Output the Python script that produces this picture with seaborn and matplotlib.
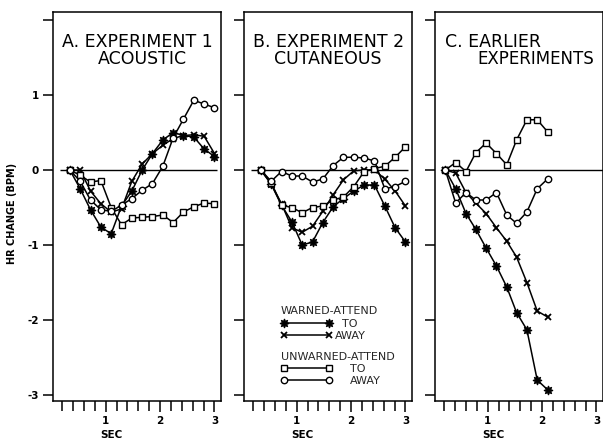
import numpy as np
import pandas as pd
import matplotlib
matplotlib.use("Agg")
import matplotlib.pyplot as plt
import seaborn as sns
from matplotlib.lines import Line2D
from matplotlib.ticker import FixedLocator

# ---------------- data ----------------
x_ab = [0.34, 0.53, 0.72, 0.91, 1.10, 1.29, 1.48, 1.67, 1.86, 2.05, 2.24, 2.43, 2.62, 2.81, 3.00]
x_c = [0.22, 0.41, 0.60, 0.78, 0.97, 1.16, 1.35, 1.53, 1.72, 1.91, 2.10]

a_warned_to = [0, -0.25, -0.53, -0.76, -0.85, -0.48, -0.28, 0.00, 0.22, 0.40, 0.50, 0.46, 0.44, 0.28, 0.18]
a_warned_away = [0, 0.00, -0.28, -0.45, -0.56, -0.52, -0.15, 0.08, 0.22, 0.33, 0.42, 0.46, 0.47, 0.45, 0.22]
a_unwarned_to = [0, -0.07, -0.16, -0.14, -0.50, -0.73, -0.64, -0.63, -0.62, -0.60, -0.70, -0.56, -0.49, -0.44, -0.45]
a_unwarned_away = [0, -0.15, -0.40, -0.53, -0.55, -0.47, -0.38, -0.27, -0.18, 0.05, 0.43, 0.68, 0.93, 0.88, 0.83]

b_warned_to = [0, -0.19, -0.47, -0.69, -1.00, -0.96, -0.70, -0.49, -0.38, -0.28, -0.20, -0.20, -0.48, -0.77, -0.96]
b_warned_away = [0, -0.18, -0.45, -0.77, -0.83, -0.75, -0.55, -0.33, -0.13, -0.01, 0.00, 0.00, -0.12, -0.28, -0.48]
b_unwarned_to = [0, -0.17, -0.47, -0.50, -0.57, -0.50, -0.48, -0.40, -0.36, -0.22, -0.02, 0.02, 0.05, 0.17, 0.31]
b_unwarned_away = [0, -0.15, -0.02, -0.08, -0.08, -0.16, -0.12, 0.06, 0.17, 0.17, 0.16, 0.12, -0.25, -0.22, -0.15]

c_warned_to = [0, -0.25, -0.58, -0.79, -1.04, -1.28, -1.56, -1.90, -2.13, -2.80, -2.93]
c_warned_away = [0, -0.04, -0.30, -0.44, -0.58, -0.77, -0.95, -1.16, -1.50, -1.88, -1.96]
c_unwarned_to = [0, 0.10, -0.02, 0.23, 0.36, 0.22, 0.07, 0.40, 0.67, 0.67, 0.51]
c_unwarned_away = [0, -0.44, -0.30, -0.40, -0.40, -0.30, -0.60, -0.71, -0.56, -0.25, -0.12]

titles_line1 = ["A. EXPERIMENT 1", "B. EXPERIMENT 2", "C. EARLIER"]
titles_line2 = ["ACOUSTIC", "CUTANEOUS", "EXPERIMENTS"]
y_ticks = [-3, -2, -1, 0, 1, 2]
y_tick_labels = ["-3", "-2", "-1", "0", "1", ""]
x_major = [1, 2, 3]

# ---------------- style ----------------
sns.set_theme(style="ticks")
plt.rcParams["font.family"] = ["DejaVu Sans"]

series_keys = ["wto", "waway", "uto", "uaway"]
styles = {
    "wto": dict(marker=(8, 1, 0), markersize=6.5, markerfacecolor="black", markeredgewidth=0.8),
    "waway": dict(marker="x", markersize=5, markerfacecolor="none", markeredgewidth=1.3),
    "uto": dict(marker="s", markersize=4.2, markerfacecolor="white", markeredgewidth=1.0),
    "uaway": dict(marker="o", markersize=4.6, markerfacecolor="white", markeredgewidth=1.0),
}

panels = [
    (x_ab, [a_warned_to, a_warned_away, a_unwarned_to, a_unwarned_away]),
    (x_ab, [b_warned_to, b_warned_away, b_unwarned_to, b_unwarned_away]),
    (x_c, [c_warned_to, c_warned_away, c_unwarned_to, c_unwarned_away]),
]

fig = plt.figure(figsize=(6.03, 4.44), dpi=100)
lefts = [53, 244, 435]
W, bottom, top = 168, 401, 12
axes = [fig.add_axes([l / 603, (444 - bottom) / 444, W / 603, (bottom - top) / 444]) for l in lefts]

minor_x = [v for v in np.round(np.arange(0.2, 3.01, 0.2), 2) if v not in (1.0, 2.0, 3.0)]

for i, (ax, (xs, ys)) in enumerate(zip(axes, panels)):
    ax.hlines(0, 0.15, 3.05 if i < 2 else 3.3, color="black", lw=1.0, zorder=1)
    for key, y in zip(series_keys, ys):
        df = pd.DataFrame({"sec": xs, "hr": y})
        sns.lineplot(data=df, x="sec", y="hr", ax=ax, color="black", lw=1.1,
                     markeredgecolor="black", legend=False, zorder=3, **styles[key])
    ax.set_xlim(0.03, 3.12)
    ax.set_ylim(-3.08, 2.107)
    ax.xaxis.set_major_locator(FixedLocator(x_major))
    ax.xaxis.set_minor_locator(FixedLocator(minor_x))
    ax.set_xticklabels([str(v) for v in x_major], fontsize=7.5, fontweight="bold")
    ax.set_yticks(y_ticks)
    if i == 0:
        ax.set_yticklabels(y_tick_labels, fontsize=7.5, fontweight="bold")
    else:
        ax.set_yticklabels([""] * len(y_ticks))
    ax.tick_params(axis="both", which="both", direction="out", length=7, width=1.1,
                   color="black", labelcolor="black", pad=3)
    ax.tick_params(axis="x", which="major", length=8)
    for s in ax.spines.values():
        s.set_visible(True)
        s.set_color("black")
        s.set_linewidth(1.1)
    ax.set_xlabel("SEC", fontsize=7.5, fontweight="bold", color="black")
    ax.xaxis.set_label_coords(0.35, -0.074)
    ax.set_ylabel("")

# titles
tfs = 12.5
axes[0].text(0.054, 0.924, titles_line1[0], transform=axes[0].transAxes, fontsize=tfs,
             ha="left", va="center", color="black")
axes[0].text(0.533, 0.880, titles_line2[0], transform=axes[0].transAxes, fontsize=tfs,
             ha="center", va="center", color="black")
axes[1].text(0.054, 0.924, titles_line1[1], transform=axes[1].transAxes, fontsize=tfs,
             ha="left", va="center", color="black")
axes[1].text(0.50, 0.880, titles_line2[1], transform=axes[1].transAxes, fontsize=tfs,
             ha="center", va="center", color="black")
axes[2].text(0.06, 0.924, titles_line1[2], transform=axes[2].transAxes, fontsize=tfs,
             ha="left", va="center", color="black")
axes[2].text(0.25, 0.880, titles_line2[2], transform=axes[2].transAxes, fontsize=12,
             ha="left", va="center", color="black")

axes[0].set_ylabel("HR CHANGE (BPM)", fontsize=7, fontweight="bold", color="black")
axes[0].yaxis.set_label_coords(-0.214, 0.483)

# legend in panel B
def handle(key):
    return Line2D([], [], color="black", lw=1.1, markeredgecolor="black", **styles[key])

lfs = 8
axb = axes[1]
leg1 = axb.legend([handle("wto"), handle("waway")], ["  TO", "AWAY"],
                  title="WARNED-ATTEND", loc="upper left", bbox_to_anchor=(0.22, 0.243),
                  frameon=False, fontsize=lfs, title_fontsize=lfs, numpoints=2,
                  handlelength=4.6, handletextpad=0.3, labelspacing=0.2,
                  borderpad=0, borderaxespad=0, alignment="left")
axb.add_artist(leg1)
leg2 = axb.legend([handle("uto"), handle("uaway")], ["TO", "AWAY"],
                  title="UNWARNED-ATTEND", loc="upper left", bbox_to_anchor=(0.22, 0.127),
                  frameon=False, fontsize=lfs, title_fontsize=lfs, numpoints=2,
                  handlelength=4.6, handletextpad=1.6, labelspacing=0.2,
                  borderpad=0, borderaxespad=0, alignment="left")

fig.savefig("out.png", dpi=100, facecolor="white")
